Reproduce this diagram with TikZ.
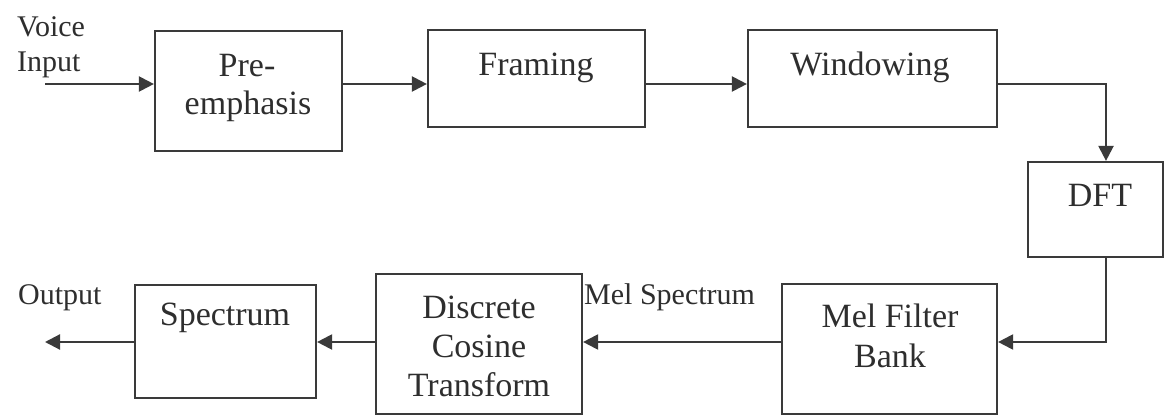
\documentclass[tikz,border=0pt]{standalone}
\usepackage{fontspec}
\setmainfont{Liberation Serif}
\usetikzlibrary{arrows.meta}
\definecolor{lc}{HTML}{3A3A3A}
\definecolor{tc}{HTML}{2E2E2E}
\begin{document}
\begin{tikzpicture}[x=1pt,y=-1pt,
  blk/.style={draw=lc, line width=2.2pt, inner sep=0pt, rectangle},
  txt/.style={text=tc, inner sep=0pt, anchor=base, font=\fontsize{34}{39}\selectfont},
  lbl/.style={text=tc, inner sep=0pt, anchor=base west, font=\fontsize{30}{35}\selectfont},
  conn/.style={draw=lc, line width=2.2pt},
  arr/.style={conn, -{Triangle[length=15pt,width=15pt]}}]
\fill[white] (0,0) rectangle (1165,417);
\useasboundingbox (0,0) rectangle (1165,417);

% boxes
\node[blk, minimum width=187pt, minimum height=120pt] (pre)  at (248.5,91) {};
\node[blk, minimum width=217pt, minimum height=97pt]  (fram) at (536.5,78.5) {};
\node[blk, minimum width=249pt, minimum height=97pt]  (win)  at (872.5,78.5) {};
\node[blk, minimum width=135pt, minimum height=95pt]  (dft)  at (1095.5,209.5) {};
\node[blk, minimum width=215pt, minimum height=130pt] (mel)  at (889.5,349) {};
\node[blk, minimum width=206pt, minimum height=140pt] (dct)  at (479,344) {};
\node[blk, minimum width=181pt, minimum height=113pt] (spec) at (225.5,341.5) {};

% box texts
\node[txt] (preA) at (247,77) {Pre-};
\node[txt] (preB) at (248,115) {emphasis};
\node[txt] (framT) at (536,76) {Framing};
\node[txt] (winT) at (870,76) {Windowing};
\node[txt] (dftT) at (1100,207) {DFT};
\node[txt] (melA) at (890,327) {Mel Filter};
\node[txt] (melB) at (890,367) {Bank};
\node[txt] (dctA) at (479,318) {Discrete};
\node[txt] (dctB) at (479,357) {Cosine};
\node[txt] (dctC) at (479,396) {Transform};
\node[txt] (specT) at (225,325) {Spectrum};

% free labels
\node[lbl] (vA) at (17,37) {Voice};
\node[lbl] (vB) at (17,72) {Input};
\node[lbl] (outL) at (18,304) {Output};
\node[lbl] (melL) at (584,304) {Mel Spectrum};

% connector coordinates
\coordinate (vin) at (45,84);
\coordinate (vout) at (45,342);
\coordinate (cx) at (1106,0);

% connectors
\draw[arr] (vin) -- (vin -| pre.west);
\draw[arr] (pre.east |- vin) -- (fram.west |- vin);
\draw[arr] (fram.east |- vin) -- (win.west |- vin);
\draw[arr] (win.east |- vin) -| (cx |- dft.north);
\draw[arr] (cx |- dft.south) |- (mel.east |- vout);
\draw[arr] (mel.west |- vout) -- (dct.east |- vout);
\draw[arr] (dct.west |- vout) -- (spec.east |- vout);
\draw[arr] (spec.west |- vout) -- (vout);
\end{tikzpicture}
\end{document}
